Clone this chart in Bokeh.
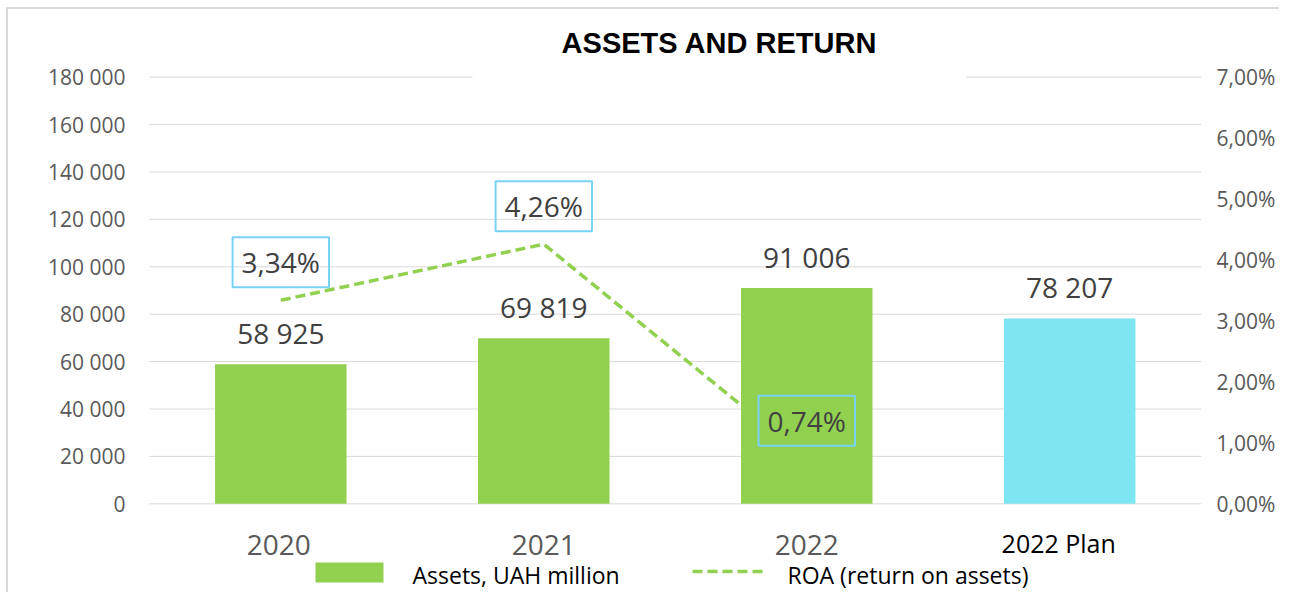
from bokeh.plotting import figure
from bokeh.models import Range1d, ColumnDataSource
from bokeh.core.properties import value
from bokeh.embed import file_html
from bokeh.resources import INLINE

# ---------------- data ----------------
categories = ["2020", "2021", "2022", "2022 Plan"]
assets = [58925, 69819, 91006, 78207]
bar_colors = ["#92D050", "#92D050", "#92D050", "#7EE6F2"]
roa_categories = ["2020", "2021", "2022"]
roa = [0.0334, 0.0426, 0.0074]
left_ticks = [0, 20000, 40000, 60000, 80000, 100000, 120000, 140000, 160000, 180000]
right_ticks = [0.0, 0.01, 0.02, 0.03, 0.04, 0.05, 0.06, 0.07]
title_text = "ASSETS AND RETURN"
legend_assets = "Assets, UAH million"
legend_roa = "ROA (return on assets)"

# ---------------- layout (pixels from the figure's top-left) ----------------
FIG_W, FIG_H = 1279, 592
X0_PX = 280.3          # x of first category centre
PX_PER_CAT = 262.97
Y0_PX = 503.3          # y of value 0
PX_PER_ASSET = 426.6 / 180000
PX_PER_ROA = 60.94 / 0.01


def px_x(px):
    return (px - X0_PX) / PX_PER_CAT


def py(pyv):
    return (Y0_PX - pyv) / PX_PER_ASSET


x_start = px_x(0)
x_end = px_x(FIG_W)
y_start = py(FIG_H)
y_end = py(0)
r_start = (Y0_PX - FIG_H) / PX_PER_ROA
r_end = Y0_PX / PX_PER_ROA

p = figure(width=FIG_W, height=FIG_H,
           x_range=Range1d(x_start, x_end), y_range=Range1d(y_start, y_end),
           x_axis_type=None, y_axis_type=None,
           toolbar_location=None, output_backend="svg",
           min_border=0, outline_line_color=None,
           background_fill_color="white", border_fill_color="white")
p.extra_y_ranges = {"roa": Range1d(r_start, r_end)}

FONT = value("Open Sans")
GRID = "#D9D9D9"

# outer frame border (top and left visible)
p.line(x=[px_x(6), x_end], y=[py(7.5)] * 2, line_color=GRID, line_width=2)
p.line(x=[px_x(6.5)] * 2, y=[y_start, py(7)], line_color=GRID, line_width=2)

# gridlines
n = len(categories)
p.segment(x0=[-0.5] * len(left_ticks), x1=[n - 0.5] * len(left_ticks),
          y0=left_ticks, y1=left_ticks, line_color=GRID, line_width=1)

# left tick labels
left_labels = [f"{t:,}".replace(",", " ") for t in left_ticks]
p.text(x=[px_x(125)] * len(left_ticks), y=left_ticks, text=left_labels,
       text_align="right", text_baseline="middle", text_font=FONT,
       text_font_size="21px", text_color="#595959")

# right tick labels
right_labels = [f"{t*100:.2f}%".replace(".", ",") for t in right_ticks]
p.text(x=[px_x(1216)] * len(right_ticks), y=right_ticks, text=right_labels,
       y_range_name="roa", text_align="left", text_baseline="middle",
       text_font=FONT, text_font_size="21px", text_color="#595959")

# ROA line (drawn under bars)
roa_x = [categories.index(c) for c in roa_categories]
p.line(x=roa_x, y=roa, y_range_name="roa", line_color="#92D050",
       line_width=3.5, line_dash="10 5")

# bars
bar_x = list(range(n))
src = ColumnDataSource(dict(x=bar_x, top=assets, color=bar_colors,
                            label=[f"{v:,}".replace(",", " ") for v in assets]))
p.vbar(x="x", top="top", bottom=0, width=0.5, fill_color="color",
       line_color=None, source=src)

# value labels
p.text(x="x", y="top", text="label", source=src, y_offset=-31,
       text_align="center", text_baseline="middle", text_font=FONT,
       text_font_size="28px", text_color="#404040")

# ROA labels (boxed)
roa_labels = [f"{v*100:.2f}%".replace(".", ",") for v in roa]
p.text(x=roa_x, y=roa, text=roa_labels, y_range_name="roa", y_offset=-38,
       text_align="center", text_baseline="middle", text_font=FONT,
       text_font_size="28px", text_color="#404040",
       border_line_color="#78D2F6", border_line_width=2,
       padding=dict(left=9, right=9, top=6, bottom=6))

# category labels
cat_src = ColumnDataSource(dict(
    x=bar_x, text=categories,
    color=["#595959", "#595959", "#595959", "#000000"],
    size=["28px", "28px", "28px", "25px"],
    xo=[-2, 0, 0, -11],
    yo=[0, 0, 0, -2]))
p.text(x="x", y=py(544), text="text", source=cat_src, x_offset="xo",
       y_offset="yo", text_align="center", text_baseline="middle",
       text_font=FONT, text_font_size="size", text_color="color")

# title
p.text(x=[px_x(719)], y=[py(53.3)], text=[title_text], text_align="center",
       text_baseline="alphabetic", text_font=value("Liberation Sans"),
       text_font_style="bold", text_font_size="29px", text_color="#000000",
       background_fill_color="white",
       padding=dict(left=89, right=89, top=2, bottom=24))

# legend
p.quad(left=[px_x(315)], right=[px_x(383)], top=[py(562)], bottom=[py(582)],
       fill_color="#92D050", line_color=None)
p.text(x=[px_x(412)], y=[py(574)], text=[legend_assets], text_align="left",
       text_baseline="middle", text_font=FONT, text_font_size="23px",
       text_color="#000000")
p.line(x=[px_x(692), px_x(765)], y=[py(571)] * 2, line_color="#92D050",
       line_width=3.5, line_dash="10 5")
p.text(x=[px_x(787)], y=[py(574)], text=[legend_roa], text_align="left",
       text_baseline="middle", text_font=FONT, text_font_size="23px",
       text_color="#000000")

open("out.html", "w").write(file_html(p, INLINE))
